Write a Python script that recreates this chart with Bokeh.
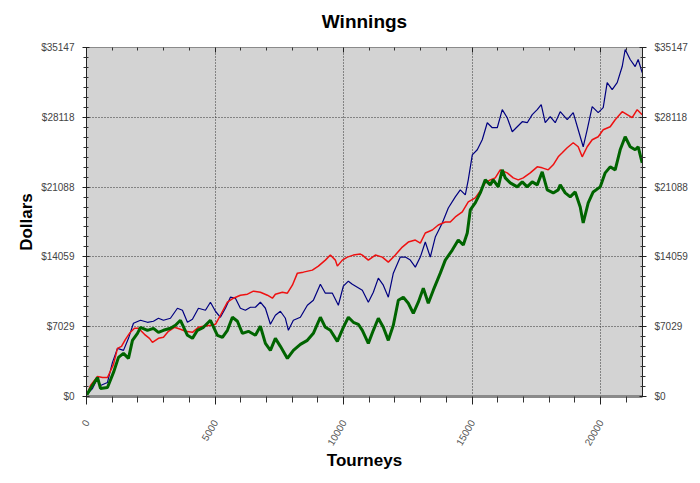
import math
from bokeh.plotting import figure
from bokeh.models import LinearAxis, FixedTicker, Range1d, Title
from bokeh.embed import file_html
from bokeh.resources import INLINE

# ---- data ----
red_x = [0, 156, 428, 622, 816, 1050, 1205, 1361, 1516, 1672, 1866, 2022, 2255, 2449, 2566, 2799, 2994,
         3188, 3421, 3655, 3849, 4121, 4355, 4549, 4821, 5016, 5210, 5482, 5715, 5987, 6260, 6493, 6765,
         7037, 7232, 7348, 7620, 7815, 8009, 8204, 8437, 8787, 9020, 9292, 9487, 9681, 9759, 9953, 10148,
         10381, 10653, 10731, 10964, 11237, 11508, 11742, 12014, 12286, 12519, 12792, 12986, 13180, 13452,
         13686, 13958, 14152, 14347, 14619, 14852, 15124, 15319, 15513, 15707, 15902, 16096, 16368, 16602,
         16796, 16991, 17263, 17535, 17729, 17963, 18157, 18351, 18507, 18701, 18935, 19129, 19284, 19479,
         19673, 19907, 20101, 20373, 20567, 20840, 21034, 21228, 21423, 21617]
red_y = [0, 1111, 2020, 1919, 1919, 3232, 4848, 5050, 5757, 6363, 6868, 6868, 6262, 5858, 5454, 5858, 5959,
         6565, 6969, 6767, 6565, 6464, 6969, 7070, 7171, 7272, 8181, 9494, 9898, 10201, 10302, 10605, 10504,
         10201, 9898, 10302, 10504, 10403, 11211, 12423, 12524, 12726, 13130, 13736, 14241, 13736, 13130,
         13736, 14039, 14241, 14342, 14241, 13736, 14241, 14039, 13534, 14241, 15049, 15554, 15756, 15453,
         16463, 16766, 17271, 17574, 17574, 18079, 18584, 19594, 19998, 20705, 21513, 21816, 22018, 22826,
         22523, 22018, 21816, 22018, 22523, 23129, 23028, 22826, 23331, 24139, 24543, 25048, 25553, 25149,
         24139, 25149, 25856, 26159, 26866, 27169, 27876, 28684, 28381, 28078, 28886, 28381]

blue_x = [0, 233, 428, 544, 816, 1011, 1205, 1439, 1633, 1827, 2100, 2372, 2605, 2799, 2994, 3266, 3538,
          3732, 3927, 4121, 4355, 4627, 4821, 5016, 5210, 5404, 5599, 5793, 5987, 6182, 6376, 6571, 6765,
          6960, 7154, 7348, 7543, 7737, 7854, 8048, 8320, 8592, 8826, 9098, 9292, 9565, 9798, 9992, 10187,
          10342, 10536, 10731, 10964, 11159, 11353, 11547, 11742, 11936, 12208, 12403, 12597, 12792, 12986,
          13180, 13375, 13569, 13841, 14075, 14347, 14541, 14736, 14852, 15008, 15202, 15396, 15591, 15785,
          15980, 16174, 16368, 16563, 16757, 16952, 17146, 17340, 17535, 17690, 17846, 18040, 18235, 18429,
          18701, 18935, 19129, 19323, 19479, 19673, 19907, 20101, 20256, 20451, 20645, 20840, 20956, 21151,
          21345, 21462, 21617]
blue_y = [202, 808, 1818, 1111, 1414, 3434, 4848, 4646, 5858, 7373, 7676, 7474, 7575, 7878, 7676, 7878, 8888,
          8686, 7474, 7777, 8888, 8686, 9494, 8585, 7979, 8888, 9999, 9898, 8888, 8686, 8989, 8989, 9494,
          8888, 7272, 8181, 8585, 7878, 6666, 7676, 7979, 9191, 9696, 11312, 10403, 10403, 9191, 11110, 11615,
          11312, 11009, 10706, 9494, 10504, 11918, 11211, 9999, 12423, 14039, 14039, 13736, 13029, 14039,
          15554, 14039, 16059, 17473, 18988, 20099, 20806, 20301, 21816, 24341, 24846, 25856, 27573, 27068,
          27068, 28886, 28078, 26664, 27169, 27674, 27573, 28381, 28886, 29391, 27573, 28179, 27573, 28684,
          27876, 28583, 26866, 25149, 26866, 29189, 28583, 29088, 31613, 30906, 31613, 33229, 34946, 33936,
          33229, 33936, 32623]

green_x = [0, 156, 428, 544, 816, 1050, 1244, 1439, 1633, 1788, 1983, 2100, 2372, 2605, 2799, 2994, 3266,
           3460, 3655, 3927, 4121, 4316, 4549, 4821, 5093, 5288, 5482, 5676, 5871, 6065, 6299, 6571, 6765,
           6960, 7154, 7348, 7543, 7815, 8048, 8320, 8592, 8826, 9098, 9292, 9487, 9759, 9992, 10187, 10381,
           10575, 10731, 10964, 11159, 11353, 11547, 11742, 11936, 12131, 12325, 12519, 12714, 12908, 13103,
           13297, 13491, 13764, 13958, 14230, 14463, 14658, 14813, 14930, 15124, 15319, 15513, 15707, 15824,
           16019, 16174, 16291, 16485, 16757, 16952, 17146, 17340, 17535, 17729, 17924, 18157, 18351, 18429,
           18624, 18818, 19012, 19207, 19323, 19518, 19712, 19984, 20179, 20373, 20567, 20762, 20956, 21151,
           21345, 21462, 21617]
green_y = [101, 808, 1919, 808, 909, 2424, 3939, 4343, 3838, 5656, 6363, 6969, 6666, 6868, 6464, 6666, 6868,
           7171, 7676, 6161, 5858, 6666, 6969, 7676, 6161, 5959, 6666, 7979, 7575, 6363, 6565, 6161, 7070,
           5353, 4646, 5858, 5050, 3838, 4646, 5252, 5656, 6363, 7979, 6969, 6666, 5555, 6969, 7979, 7474,
           7272, 6666, 5353, 6666, 7878, 6969, 5656, 7171, 9696, 9999, 9393, 8383, 9494, 10908,
           9393, 10706, 12423, 13736, 14746, 15756, 15251, 16463, 18786, 19493, 20503, 21816, 21311, 21816,
           21109, 22826, 22018, 21513, 21109, 21614, 21109, 21614, 21311, 22624, 20806, 20503, 20806, 21311,
           20503, 20099, 20604, 19089, 17473, 19493, 20604, 21109, 22523, 23129, 22826, 24846, 26159, 25149,
           24846, 25149, 23533]

y_ticks = [0, 7029.4, 14058.8, 21088.2, 28117.6, 35147]
y_tick_labels = ["$0", "$7029", "$14059", "$21088", "$28118", "$35147"]
x_ticks = [0, 5000, 10000, 15000, 20000]
x_tick_labels = ["0", "5000", "10000", "15000", "20000"]
title_text = "Winnings"

FONT = "Liberation Sans"
X_MAX = 21630
Y_MAX = 35147

p = figure(output_backend="svg", toolbar_location=None,
           x_range=Range1d(0, X_MAX), y_range=Range1d(0, Y_MAX),
           frame_width=556, frame_height=349,
           min_border_left=86, min_border_right=50, min_border_top=47, min_border_bottom=79,
           x_axis_location=None, y_axis_location=None, title=None)
p.background_fill_color = "#d3d3d3"
p.border_fill_color = "white"
p.outline_line_color = "#8a8a8a"
p.outline_line_width = 1

y_minor = []
for i in range(5):
    for k in range(1, 7):
        y_minor.append(y_ticks[i] + k * (y_ticks[1] / 7))
x_minor = [v for v in range(1000, 22000, 1000) if v % 5000 != 0]

yt = FixedTicker(ticks=y_ticks, minor_ticks=y_minor)
xt = FixedTicker(ticks=x_ticks, minor_ticks=x_minor)
y_over = {t: l for t, l in zip(y_ticks, y_tick_labels)}
x_over = {t: l for t, l in zip(x_ticks, x_tick_labels)}


def style_y(ax, label=None):
    ax.ticker = yt
    ax.major_label_overrides = y_over
    ax.major_label_text_font = FONT
    ax.major_label_text_font_size = "10px"
    ax.major_label_text_color = "#444444"
    ax.axis_line_color = "#222222"
    ax.major_tick_in = 3
    ax.major_tick_out = 4
    ax.minor_tick_in = 2
    ax.minor_tick_out = 3
    ax.major_tick_line_color = "#222222"
    ax.minor_tick_line_color = "#333333"
    ax.major_label_standoff = 8
    if label:
        ax.axis_label = label
        ax.axis_label_text_font = FONT
        ax.axis_label_text_font_size = "17px"
        ax.axis_label_text_font_style = "bold"
        ax.axis_label_text_color = "black"
        ax.axis_label_standoff = 2


left = LinearAxis()
style_y(left, "Dollars")
p.add_layout(left, "left")
right = LinearAxis()
style_y(right)
p.add_layout(right, "right")

below = LinearAxis()
below.ticker = xt
below.major_label_overrides = x_over
below.major_label_orientation = math.pi / 3
below.major_label_text_font = FONT
below.major_label_text_font_size = "10px"
below.major_label_text_color = "#555555"
below.major_label_standoff = 16
below.axis_line_color = "#8a8a8a"
below.axis_line_width = 3
below.major_tick_in = 0
below.major_tick_out = 8
below.minor_tick_in = 0
below.minor_tick_out = 6
below.major_tick_line_color = "#222222"
below.minor_tick_line_color = "#333333"
below.axis_label = "Tourneys"
below.axis_label_text_font = FONT
below.axis_label_text_font_size = "17px"
below.axis_label_text_font_style = "bold"
below.axis_label_text_color = "black"
below.axis_label_standoff = -1
p.add_layout(below, "below")

above = LinearAxis()
above.ticker = xt
above.major_label_text_font_size = "0px"
above.major_label_text_alpha = 0
above.major_label_standoff = 0
above.axis_line_color = "#8a8a8a"
above.major_tick_in = 5
above.major_tick_out = 0
above.minor_tick_in = 3
above.minor_tick_out = 0
above.major_tick_line_color = "#222222"
above.minor_tick_line_color = "#333333"
p.add_layout(above, "above")

spacer = Title(text=" ", text_font_size="12px", standoff=0)
p.add_layout(spacer, "above")
main_title = Title(text=title_text, align="center", text_font=FONT, text_font_size="19px",
                   text_font_style="bold", text_color="black", standoff=0)
p.add_layout(main_title, "above")

p.xgrid.ticker = xt
p.ygrid.ticker = yt
for g in (p.xgrid, p.ygrid):
    g.grid_line_color = "#333333"
    g.grid_line_dash = "1 2"
    g.grid_line_width = 1

p.line(blue_x, blue_y, line_color="#000080", line_width=1.2)
p.line(red_x, red_y, line_color="#ee1111", line_width=1.5)
p.line(green_x, green_y, line_color="#006400", line_width=3)

open("out.html", "w").write(file_html(p, INLINE))
